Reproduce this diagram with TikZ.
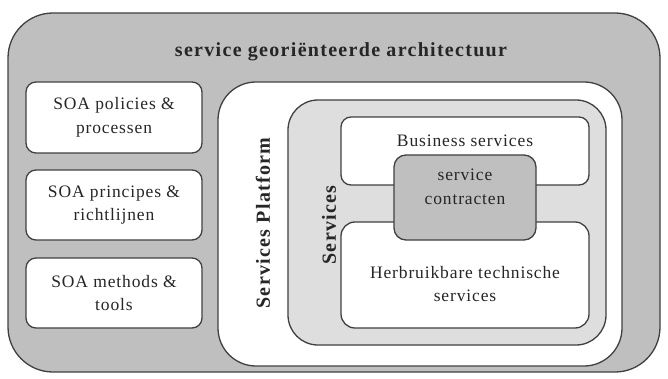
\documentclass[tikz,border=0pt]{standalone}
\usepackage{fontspec}
\setmainfont{Liberation Serif}
\begin{document}
\begin{tikzpicture}[x=1pt,y=-1pt,
  frame/.style={draw=black!75,line width=1.3pt,inner sep=0pt,outer sep=0pt,anchor=north west},
  lbl/.style={align=center,font=\fontsize{17.5}{23.5}\selectfont\addfontfeatures{LetterSpace=5},text=black!85},
  bold/.style={font=\fontsize{20}{24}\selectfont\bfseries\addfontfeatures{LetterSpace=6.5},text=black!85}]
\useasboundingbox (0,0) rectangle (668,379);
% outer frame
\node[frame,fill=black!25,rounded corners=45pt,minimum width=652pt,minimum height=359pt] (soa) at (8,13) {};
\node[bold] (soaT) at (341,52) {service georiënteerde architectuur};
% left column
\node[frame,fill=white,rounded corners=10pt,minimum width=176pt,minimum height=71pt] (pol) at (26,82) {};
\node[lbl] at (pol.center) {SOA policies \&\\processen};
\node[frame,fill=white,rounded corners=10pt,minimum width=176pt,minimum height=70pt] (pri) at (26,170) {};
\node[lbl] at (pri.center) {SOA principes \&\\richtlijnen};
\node[frame,fill=white,rounded corners=10pt,minimum width=176pt,minimum height=70pt] (met) at (26,258) {};
\node[lbl] at (met.center) {SOA methods \&\\tools};
% services platform
\node[frame,fill=white,rounded corners=38pt,minimum width=404pt,minimum height=284pt] (plat) at (218,82) {};
\node[bold,rotate=90] (platT) at (263,223) {Services Platform};
% services
\node[frame,fill=black!13,rounded corners=30pt,minimum width=318pt,minimum height=245pt] (serv) at (288,100) {};
\node[bold,rotate=90] (servT) at (329,225) {Services};
% business and technical services
\node[frame,fill=white,rounded corners=10pt,minimum width=248pt,minimum height=68pt] (bus) at (341,117) {};
\node[lbl] (busT) at (465,141) {Business services};
\node[frame,fill=white,rounded corners=14pt,minimum width=248pt,minimum height=106pt] (tech) at (341,222) {};
\node[lbl] (techT) at (465,284) {Herbruikbare technische\\services};
% service contracts
\node[frame,fill=black!25,rounded corners=12pt,minimum width=142pt,minimum height=85pt] (con) at (394,155) {};
\node[lbl] (conT) at (465,187) {service\\contracten};
\end{tikzpicture}
\end{document}
